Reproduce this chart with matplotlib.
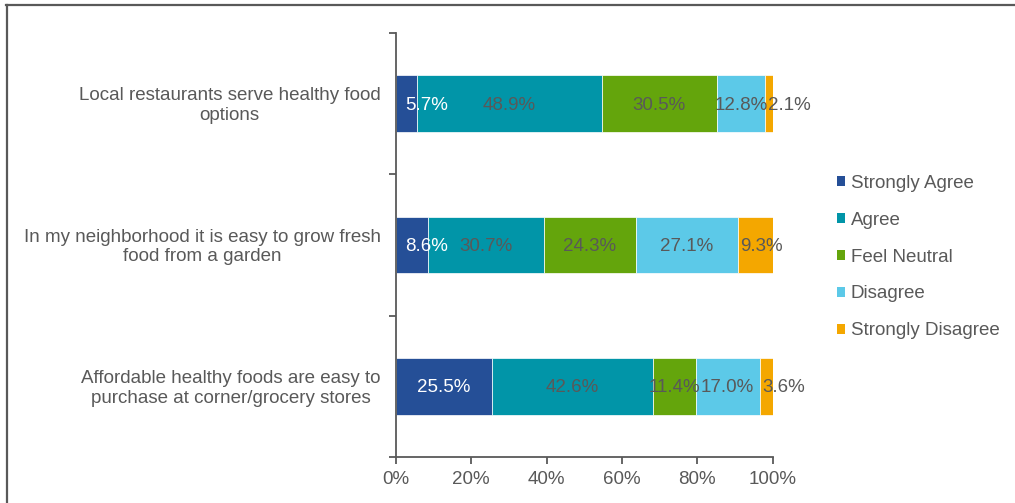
import matplotlib
matplotlib.use("Agg")
import matplotlib.pyplot as plt
from matplotlib.lines import Line2D
from matplotlib.patches import Patch

plt.rcParams["font.family"] = ["Liberation Sans", "DejaVu Sans"]

categories = [
    "Local restaurants serve healthy food\noptions",
    "In my neighborhood it is easy to grow fresh\nfood from a garden",
    "Affordable healthy foods are easy to\npurchase at corner/grocery stores",
]
series = ["Strongly Agree", "Agree", "Feel Neutral", "Disagree", "Strongly Disagree"]
values = [
    [5.7, 8.6, 25.5],     # Strongly Agree
    [48.9, 30.7, 42.6],   # Agree
    [30.5, 24.3, 11.4],   # Feel Neutral
    [12.8, 27.1, 17.0],   # Disagree
    [2.1, 9.3, 3.6],      # Strongly Disagree
]
x_ticks = [0, 20, 40, 60, 80, 100]

colors = ["#254F97", "#0195A8", "#64A50C", "#5CC9E8", "#F4A700"]
label_colors = ["white", "#595959", "#595959", "#595959", "#595959"]
gray = "#595959"
fs = 13.5

fig = plt.figure(figsize=(10.15, 5.03), dpi=100)
ax = fig.add_axes([0.390, 0.0915, 0.3714, 0.843])

ypos = [2, 1, 0]
left = [0.0, 0.0, 0.0]
for s, (name, vals) in enumerate(zip(series, values)):
    ax.barh(ypos, vals, left=left, height=0.4, color=colors[s],
            edgecolor="white", linewidth=0.5, label=name)
    for i, v in enumerate(vals):
        start = left[i]
        if v < 10 and s == 0:
            ax.annotate(f"{v:.1f}%", (start, ypos[i]), xytext=(7, -1),
                        textcoords="offset points", ha="left", va="center",
                        color=label_colors[s], fontsize=fs)
        elif v < 10 and s == len(series) - 1:
            ax.annotate(f"{v:.1f}%", (start, ypos[i]), xytext=(2, -1),
                        textcoords="offset points", ha="left", va="center",
                        color=label_colors[s], fontsize=fs)
        else:
            ax.annotate(f"{v:.1f}%", (start + v / 2, ypos[i]), xytext=(0, -1),
                        textcoords="offset points", ha="center", va="center",
                        color=label_colors[s], fontsize=fs)
        left[i] += v

ax.set_xlim(0, 100)
ax.set_ylim(-0.5, 2.5)
ax.set_xticks(x_ticks)
ax.set_xticklabels([f"{t}%" for t in x_ticks], fontsize=fs, color=gray)
ax.set_yticks([-0.5, 0.5, 1.5, 2.5])
ax.set_yticklabels([])
for y, lab in zip(ypos, categories):
    ax.annotate(lab, (0, y), xycoords=ax.get_yaxis_transform(),
                xytext=(-11, -1.5), textcoords="offset points",
                ha="right", va="center", multialignment="center",
                fontsize=fs, color=gray, linespacing=1.22)

for side in ["top", "right"]:
    ax.spines[side].set_visible(False)
ax.spines["left"].set_color(gray)
ax.spines["bottom"].set_color(gray)
ax.spines["left"].set_linewidth(1.3)
ax.spines["bottom"].set_linewidth(1.3)
ax.tick_params(axis="x", direction="out", length=5, width=1.3, color=gray, pad=5)
ax.tick_params(axis="y", direction="out", length=5, width=1.3, color=gray)

handles = [Patch(facecolor=c, edgecolor="none") for c in colors]
fig.legend(handles, series, loc="center left", bbox_to_anchor=(0.815, 0.489),
           frameon=False, fontsize=fs, labelcolor=gray,
           handlelength=0.45, handleheight=0.45, handletextpad=0.3,
           labelspacing=1.06, borderpad=0)

# outer frame (top and left edges only)
fig.add_artist(Line2D([0.006, 1.0], [0.991, 0.991], transform=fig.transFigure,
                      color=gray, linewidth=1.6))
fig.add_artist(Line2D([0.0066, 0.0066], [0.0, 0.991], transform=fig.transFigure,
                      color=gray, linewidth=1.6))

fig.savefig("out.png", dpi=100)
